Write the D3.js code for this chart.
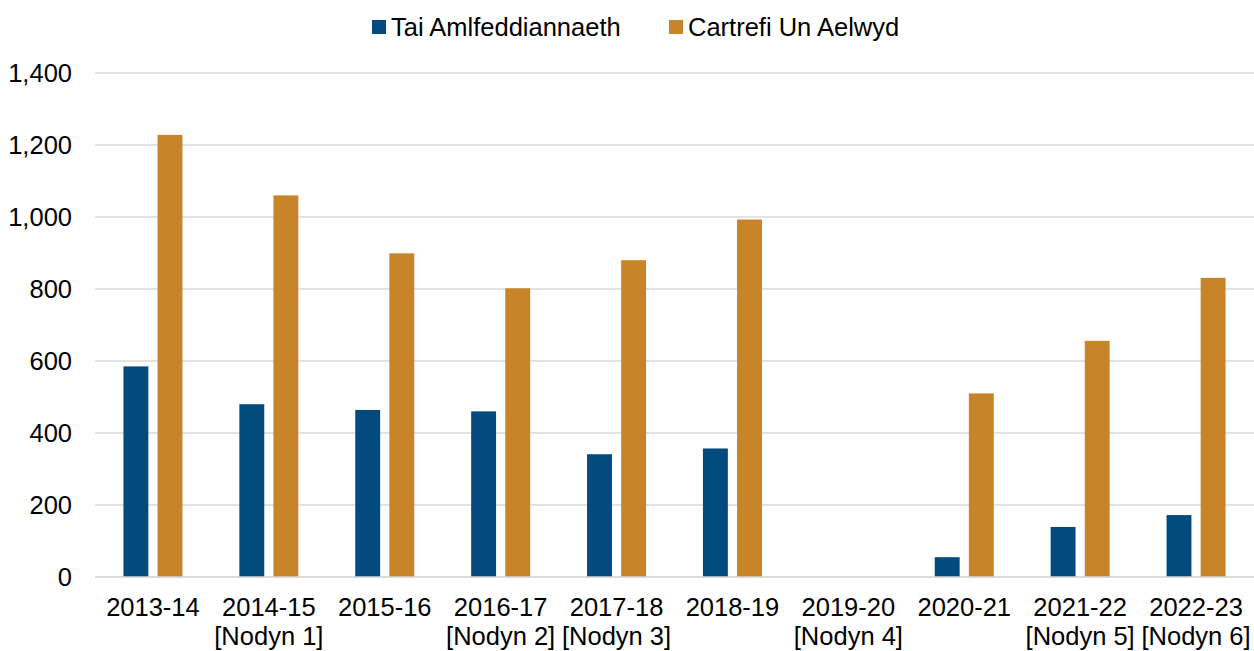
<!DOCTYPE html>
<html><head><meta charset="utf-8">
<script src="https://cdn.jsdelivr.net/npm/d3@7"></script>
<style>body{margin:0;background:#fff;} svg{display:block;font-family:"Liberation Sans",Arial,sans-serif;}</style>
</head><body>
<svg id="c" width="1254" height="651"></svg>
<script>
const categories = ["2013-14","2014-15","2015-16","2016-17","2017-18","2018-19","2019-20","2020-21","2021-22","2022-23"];
const notes = ["","[Nodyn 1]","","[Nodyn 2]","[Nodyn 3]","","[Nodyn 4]","","[Nodyn 5]","[Nodyn 6]"];
const seriesNames = ["Tai Amlfeddiannaeth","Cartrefi Un Aelwyd"];
const taiAmlfeddiannaeth = [585,480,464,460,341,357,null,55,139,172];
const cartrefiUnAelwyd = [1228,1060,899,802,880,993,null,510,656,831];
const yTicks = [0,200,400,600,800,1000,1200,1400];
const colors = ["#034a7e","#c78429"];

const svg = d3.select("#c");
const m = {left:95, right:1254, top:73, bottom:577};
const x = d3.scaleBand().domain(categories).range([m.left, m.right]).paddingInner(0).paddingOuter(0);
const y = d3.scaleLinear().domain([0,1400]).range([m.bottom, m.top]);
const inner = d3.scaleBand().domain([0,1]).range([0, 59]).paddingInner(0.27);

// gridlines
svg.append("g").selectAll("line").data(yTicks).join("line")
  .attr("x1", m.left).attr("x2", m.right)
  .attr("y1", d=>y(d)).attr("y2", d=>y(d))
  .attr("stroke", "#d9d9d9").attr("stroke-width", 1.5);

// y labels
const yAxis = d3.axisLeft(y).tickValues(yTicks).tickFormat(d3.format(",")).tickSize(0).tickPadding(0);
const ya = svg.append("g").attr("transform", `translate(72,0)`).call(yAxis);
ya.select(".domain").remove();
ya.selectAll("text").attr("font-size", 25.5).attr("fill", "#000").attr("font-family","Liberation Sans, Arial, sans-serif");

// bars
const series = [taiAmlfeddiannaeth, cartrefiUnAelwyd];
series.forEach((vals, si) => {
  svg.append("g").selectAll("rect")
    .data(categories.map((c,i)=>({c, v: vals[i]})).filter(d=>d.v!=null))
    .join("rect")
    .attr("x", d => x(d.c) + x.bandwidth()/2 - 29.5 + inner(si))
    .attr("width", inner.bandwidth())
    .attr("y", d => y(d.v))
    .attr("height", d => y(0) - y(d.v))
    .attr("fill", colors[si]);
});

// x axis line
svg.append("line").attr("x1", m.left).attr("x2", m.right).attr("y1", y(0)).attr("y2", y(0))
  .attr("stroke", "#d9d9d9").attr("stroke-width", 1.5);

// x labels
const xa = svg.append("g");
categories.forEach((c,i) => {
  const t = xa.append("text").attr("text-anchor","middle").attr("font-size",25.5).attr("fill","#000")
    .attr("x", x(c) + x.bandwidth()/2).attr("y", 616);
  t.append("tspan").attr("x", x(c) + x.bandwidth()/2).text(c);
  if (notes[i]) t.append("tspan").attr("x", x(c) + x.bandwidth()/2).attr("dy", 29).text(notes[i]);
});

// legend
const legend = [{name: seriesNames[0], x: 372}, {name: seriesNames[1], x: 669}];
legend.forEach((l, i) => {
  svg.append("rect").attr("x", l.x).attr("y", 20).attr("width", 14).attr("height", 14).attr("fill", colors[i]);
  svg.append("text").attr("x", l.x + 19).attr("y", 36).attr("font-size", 25.5).attr("fill","#000").text(l.name);
});
</script>
</body></html>
